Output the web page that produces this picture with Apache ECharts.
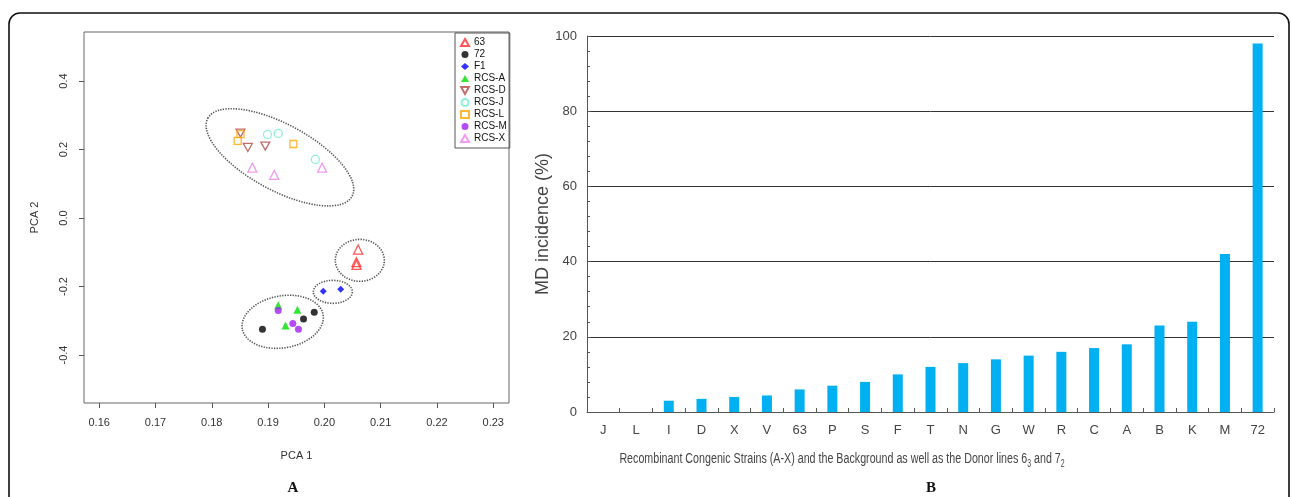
<!DOCTYPE html>
<html>
<head>
<meta charset="utf-8">
<script src="https://cdn.jsdelivr.net/npm/echarts@6/dist/echarts.min.js"></script>
<style>
html,body{margin:0;padding:0;background:#fff;}
#chart{width:1292px;height:497px;}
</style>
</head>
<body>
<div id="chart"></div>
<script>
// ---------- Panel A data (PCA) ----------
const strainNames = ['63','72','F1','RCS-A','RCS-D','RCS-J','RCS-L','RCS-M','RCS-X'];
const pts63   = [[0.2060,-0.092],[0.2057,-0.129],[0.2057,-0.137]];
const pts72   = [[0.1982,-0.275],[0.1963,-0.295],[0.1890,-0.325]];
const ptsF1   = [[0.1998,-0.214],[0.2029,-0.208]];
const ptsRCSA = [[0.1918,-0.255],[0.1952,-0.268],[0.1931,-0.314]];
const ptsRCSD = [[0.1851,0.248],[0.1864,0.206],[0.1895,0.210]];
const ptsRCSJ = [[0.1899,0.244],[0.1918,0.247],[0.1984,0.171]];
const ptsRCSL = [[0.1851,0.245],[0.1846,0.225],[0.1945,0.216]];
const ptsRCSM = [[0.1918,-0.270],[0.1944,-0.308],[0.1954,-0.325]];
const ptsRCSX = [[0.1872,0.147],[0.1911,0.126],[0.1996,0.147]];
const pcaXTicks = [0.16,0.17,0.18,0.19,0.20,0.21,0.22,0.23];
const pcaYTicks = [-0.4,-0.2,0.0,0.2,0.4];
// cluster ellipse centres (data units)
const ellipseCentres = [[0.1921,0.1772],[0.2063,-0.1235],[0.2015,-0.2155],[0.1926,-0.303]];

// ---------- Panel B data (MD incidence) ----------
const barCategories = ['J','L','I','D','X','V','63','P','S','F','T','N','G','W','R','C','A','B','K','M','72'];
const mdIncidence   = [0,0,3,3.5,4,4.4,6,7,8,10,12,13,14,15,16,17,18,23,24,42,98];
const barXName = 'Recombinant Congenic Strains (A-X) and the Background as well as the Donor lines 6{sub|3} and 7{sub|2}';

// ---------- styles ----------
const strainStyles = [
  {sym:'triangle', size:9, color:'#FF2A2A', hollow:true},
  {sym:'circle', size:7, color:'#000000', hollow:false},
  {sym:'diamond', size:7, color:'#0000FF', hollow:false},
  {sym:'triangle', size:8, color:'#00E000', hollow:false},
  {sym:'path://M0,0L10,0L5,9Z', size:[9,8], color:'#B04A48', hollow:true},
  {sym:'circle', size:8, color:'#70EED0', hollow:true},
  {sym:'rect', size:7, color:'#FFA500', hollow:true},
  {sym:'circle', size:7, color:'#A020F0', hollow:false},
  {sym:'triangle', size:9, color:'#EE82EE', hollow:true}
];
const strainPoints = [pts63,pts72,ptsF1,ptsRCSA,ptsRCSD,ptsRCSJ,ptsRCSL,ptsRCSM,ptsRCSX];

const chart = echarts.init(document.getElementById('chart'), null, {renderer:'canvas'});

const scatterSeries = strainNames.map((n,i)=>{
  const s = strainStyles[i];
  return {
    name:n, type:'scatter', xAxisIndex:0, yAxisIndex:0,
    symbol:s.sym, symbolSize:s.size,
    itemStyle: s.hollow ? {color:'rgba(255,255,255,0)', borderColor:s.color, borderWidth:1.3}
                        : {color:s.color},
    data:strainPoints[i], z:5
  };
});

const baseFont = 'Liberation Sans, Arial, sans-serif';

const option = {
  animation:false,
  backgroundColor:'#fff',
  textStyle:{fontFamily:baseFont},
  legend:{
    orient:'vertical', left:455, top:33,
    data:strainNames,
    borderColor:'#555', borderWidth:1,
    padding:[4,3,4,5], itemGap:1, itemWidth:8, itemHeight:7,
    textStyle:{fontSize:10, color:'#111', lineHeight:11, fontFamily:baseFont},
    selectedMode:false
  },
  grid:[
    {left:84, top:32, width:425, height:371, show:true, borderColor:'#666', borderWidth:1, backgroundColor:'transparent'},
    {left:587, top:36, right:18, bottom:85}
  ],
  xAxis:[
    {gridIndex:0, type:'value', min:0.1573, max:0.2328,
     name:'PCA 1', nameLocation:'middle', nameGap:47,
     nameTextStyle:{fontSize:11, color:'#333'},
     axisLine:{show:false, onZero:false},
     axisTick:{show:true, length:5, lineStyle:{color:'#555'}, customValues:pcaXTicks},
     axisLabel:{fontSize:11, color:'#333', margin:14, customValues:pcaXTicks, formatter:v=>v.toFixed(2)},
     splitLine:{show:false}},
    {gridIndex:1, type:'category', data:barCategories, boundaryGap:true,
     axisLine:{show:true, onZero:false, lineStyle:{color:'#555', width:1}},
     axisTick:{show:true, inside:true, length:4, lineStyle:{color:'#555'}},
     axisLabel:{fontSize:13, color:'#444', margin:12, interval:0}}
  ],
  yAxis:[
    {gridIndex:0, type:'value', min:-0.54, max:0.543,
     name:'PCA 2', nameLocation:'middle', nameGap:44,
     nameTextStyle:{fontSize:11, color:'#333'},
     axisLine:{show:false, onZero:false},
     axisTick:{show:true, length:5, lineStyle:{color:'#555'}, customValues:pcaYTicks},
     axisLabel:{fontSize:11, color:'#333', margin:15, rotate:90, customValues:pcaYTicks, formatter:v=>v.toFixed(1)},
     splitLine:{show:false}},
    {gridIndex:1, type:'value', min:0, max:100, interval:20,
     name:'MD incidence (%)', nameLocation:'middle', nameGap:35, nameMoveOverlap:false,
     nameTextStyle:{fontSize:18, color:'#444'},
     axisLine:{show:true, lineStyle:{color:'#555', width:1}},
     axisTick:{show:true, inside:true, length:4, lineStyle:{color:'#555'}},
     minorTick:{show:true, splitNumber:5, length:3, lineStyle:{color:'#555'}},
     axisLabel:{fontSize:13, color:'#444', margin:10},
     splitLine:{show:true, lineStyle:{color:'#333', width:1}}}
  ],
  series:[
    ...scatterSeries,
    {name:'MD incidence', type:'bar', xAxisIndex:1, yAxisIndex:1,
     data:mdIncidence, barWidth:10, itemStyle:{color:'#00B0F0'}, z:3}
  ]
};
chart.setOption(option);

// annotations: cluster ellipses, outer frame, x-axis title of panel B, panel letters
const ellipseStyle = [
  {rx:82, ry:33, rot:-28.4},
  {rx:24.5, ry:21, rot:0},
  {rx:19.5, ry:11.5, rot:0},
  {rx:41, ry:26, rot:10}
];
const graphics = ellipseCentres.map((c,i)=>{
  const p = chart.convertToPixel({gridIndex:0}, c);
  const e = ellipseStyle[i];
  return {type:'ellipse', x:p[0], y:p[1], rotation:e.rot*Math.PI/180,
          shape:{cx:0, cy:0, rx:e.rx, ry:e.ry},
          style:{fill:'none', stroke:'#555', lineWidth:1.6, lineDash:[1.3,1.3]}, z:4};
});
graphics.push({type:'rect', shape:{x:9, y:13, width:1280, height:540, r:11},
  style:{fill:'none', stroke:'#111', lineWidth:1.6}, z:10, silent:true});
graphics.push({type:'text', x:842, y:459, scaleX:0.69, scaleY:1,
  style:{text:barXName, font:'15.5px Liberation Sans, Arial, sans-serif', fill:'#444',
         textAlign:'center', textVerticalAlign:'middle',
         rich:{sub:{fontSize:10, fill:'#444', padding:[10,0,0,0]}}}});
graphics.push({type:'text', x:293, y:488, style:{text:'A', font:'bold 15px "Liberation Serif", "DejaVu Serif", serif', fill:'#111', textAlign:'center', textVerticalAlign:'middle'}});
graphics.push({type:'text', x:931, y:488, style:{text:'B', font:'bold 15px "Liberation Serif", "DejaVu Serif", serif', fill:'#111', textAlign:'center', textVerticalAlign:'middle'}});
chart.setOption({graphic:graphics});
</script>
</body>
</html>
